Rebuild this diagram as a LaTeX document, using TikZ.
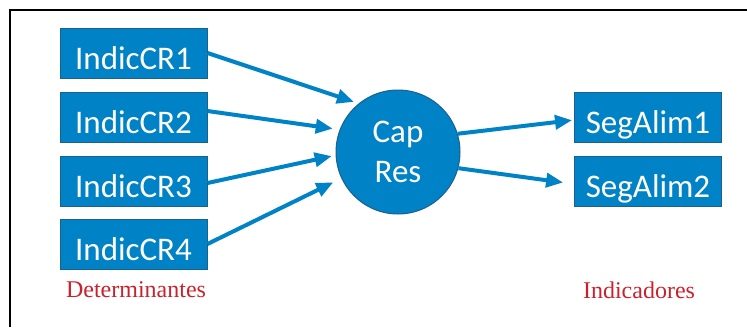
\documentclass[tikz,border=0pt]{standalone}
\usepackage{fontspec}
\setmainfont{Liberation Serif}
\newfontfamily\carlito{Carlito}
\definecolor{BoxBlue}{RGB}{0,130,198}
\definecolor{EdgeBlue}{RGB}{28,96,140}
\definecolor{LabelRed}{RGB}{200,35,45}
\usepackage{tikz}
\usetikzlibrary{positioning, arrows.meta}
\tikzstyle{indic} = [rectangle, fill=BoxBlue, draw=EdgeBlue, line width=1pt, minimum width=147pt, minimum height=50pt, text height=33pt, text depth=0pt, text=white, font=\carlito\fontsize{33}{33}\selectfont]
\tikzstyle{capres} = [circle, fill=BoxBlue, draw=EdgeBlue, line width=1pt, minimum size=124pt, inner sep=0pt, text=white, align=center, font=\carlito\fontsize{33}{40}\selectfont]
\tikzstyle{arrow} = [line width=4pt, BoxBlue, -{Triangle[length=17pt,width=14pt]}]
\tikzstyle{group} = [text=LabelRed, font=\fontsize{24}{24}\selectfont]

\begin{document}
\begin{tikzpicture}[x=1pt,y=-1pt]
  \useasboundingbox (0,0) rectangle (747,327);
  % Frame
  \draw[line width=2pt] (10,327) -- (10,10) -- (747,10);

  % Determinantes
  \node[indic] (cr1) at (133.5,53)  {IndicCR1};
  \node[indic] (cr2) at (133.5,117) {IndicCR2};
  \node[indic] (cr3) at (133.5,181) {IndicCR3};
  \node[indic] (cr4) at (133.5,244) {IndicCR4};
  \node[group] (det) at (136,290) {Determinantes};

  % Capacidade de resiliencia
  \node[capres] (cap) at (398,152) {Cap\\Res};

  % Indicadores
  \node[indic] (seg1) at (648,117) {SegAlim1};
  \node[indic] (seg2) at (648,181) {SegAlim2};
  \node[group] (ind) at (639,290) {Indicadores};

  % Arrows
  \draw[arrow, shorten >=5pt] (cr1.east) -- (cap.129);
  \draw[arrow, shorten >=7pt] ([yshift=6pt]cr2.east) -- (cap.159);
  \draw[arrow, shorten >=4pt] ([yshift=-2pt]cr3.east) -- (cap.183);
  \draw[arrow, shorten >=9pt] (cr4.east) -- (cap.205);
  \draw[arrow, shorten >=2pt] (cap.17) -- ([yshift=-3pt]seg1.west);
  \draw[arrow, shorten >=11pt] (cap.-15) -- ([yshift=-3pt]seg2.west);
\end{tikzpicture}
\end{document}
